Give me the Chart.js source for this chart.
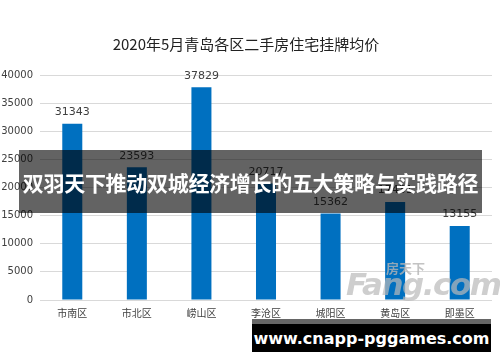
<!DOCTYPE html>
<html><head><meta charset="utf-8">
<script src="https://cdn.jsdelivr.net/npm/chart.js@4"></script>
<style>
html,body{margin:0;padding:0;background:#fff;}
#wrap{position:relative;width:500px;height:362px;overflow:hidden;}
#banner{position:absolute;left:19px;top:150px;width:463px;height:63px;background:rgba(0,0,0,0.61);color:#fff;font:bold 21px "Noto Sans CJK SC",sans-serif;display:flex;align-items:center;justify-content:center;white-space:nowrap;letter-spacing:-0.3px;}
#foot{position:absolute;left:252px;top:319px;width:239px;height:33px;background:#000;border-top:5px solid #666;box-sizing:border-box;color:#fff;font:bold 16px "DejaVu Sans",sans-serif;display:flex;align-items:center;justify-content:center;}
#wm{position:absolute;left:346px;top:258px;width:150px;height:50px;pointer-events:none;}
#wm .a{position:absolute;left:40px;top:0px;font:bold 13px "Noto Sans CJK SC",sans-serif;color:rgba(180,180,180,0.8);}
#wm .b{position:absolute;left:0px;top:8px;font:italic bold 31px "DejaVu Sans",sans-serif;color:rgba(185,185,185,0.7);letter-spacing:-1.5px;}
</style>
</head><body>
<div id="wrap">
<canvas id="c" width="500" height="362"></canvas>
<div id="wm"><span class="a">房天下</span><span class="b">Fang.com</span></div>
<div id="banner">双羽天下推动双城经济增长的五大策略与实践路径</div>
<div id="foot">www.cnapp-pggames.com</div>
</div>
<script>
const categories = ["市南区","市北区","崂山区","李沧区","城阳区","黄岛区","即墨区"];
const prices = [31343, 23593, 37829, 20717, 15362, 17431, 13155];
const titleText = "2020年5月青岛各区二手房住宅挂牌均价";

const labelPlugin = {
  id: 'vals',
  afterDatasetsDraw(chart) {
    const ctx = chart.ctx;
    const meta = chart.getDatasetMeta(0);
    ctx.save();
    ctx.font = '11px "DejaVu Sans", sans-serif';
    ctx.fillStyle = '#404040';
    ctx.textAlign = 'center';
    ctx.textBaseline = 'bottom';
    meta.data.forEach((bar, i) => {
      ctx.fillText(String(prices[i]), bar.x, bar.y - 6);
    });
    ctx.restore();
  }
};

new Chart(document.getElementById('c'), {
  type: 'bar',
  data: {
    labels: categories,
    datasets: [{ data: prices, backgroundColor: '#0070C0', borderWidth: 0, barPercentage: 0.62, categoryPercentage: 0.5 }]
  },
  options: {
    responsive: false,
    animation: false,
    devicePixelRatio: 1,
    layout: { padding: { left: 0, right: 8, top: 0, bottom: 44 } },
    plugins: {
      legend: { display: false },
      tooltip: { enabled: false },
      title: { display: true, text: titleText, color: '#222', font: { family: '"Noto Sans CJK SC", sans-serif', size: 15, weight: 'normal' }, padding: { top: 35, bottom: 22 } }
    },
    scales: {
      x: {
        grid: { display: false },
        border: { display: false },
        ticks: { color: '#404040', font: { family: '"Noto Sans CJK SC", sans-serif', size: 10, lineHeight: 1 }, padding: 0 }
      },
      y: {
        min: 0, max: 40000,
        afterFit(s) { s.width = 40; },
        ticks: { stepSize: 5000, color: '#404040', font: { family: '"DejaVu Sans", sans-serif', size: 10 }, padding: 7, callback: v => String(v) },
        grid: { color: '#d9d9d9', drawTicks: false },
        border: { display: false }
      }
    }
  },
  plugins: [labelPlugin]
});
</script>
</body></html>
